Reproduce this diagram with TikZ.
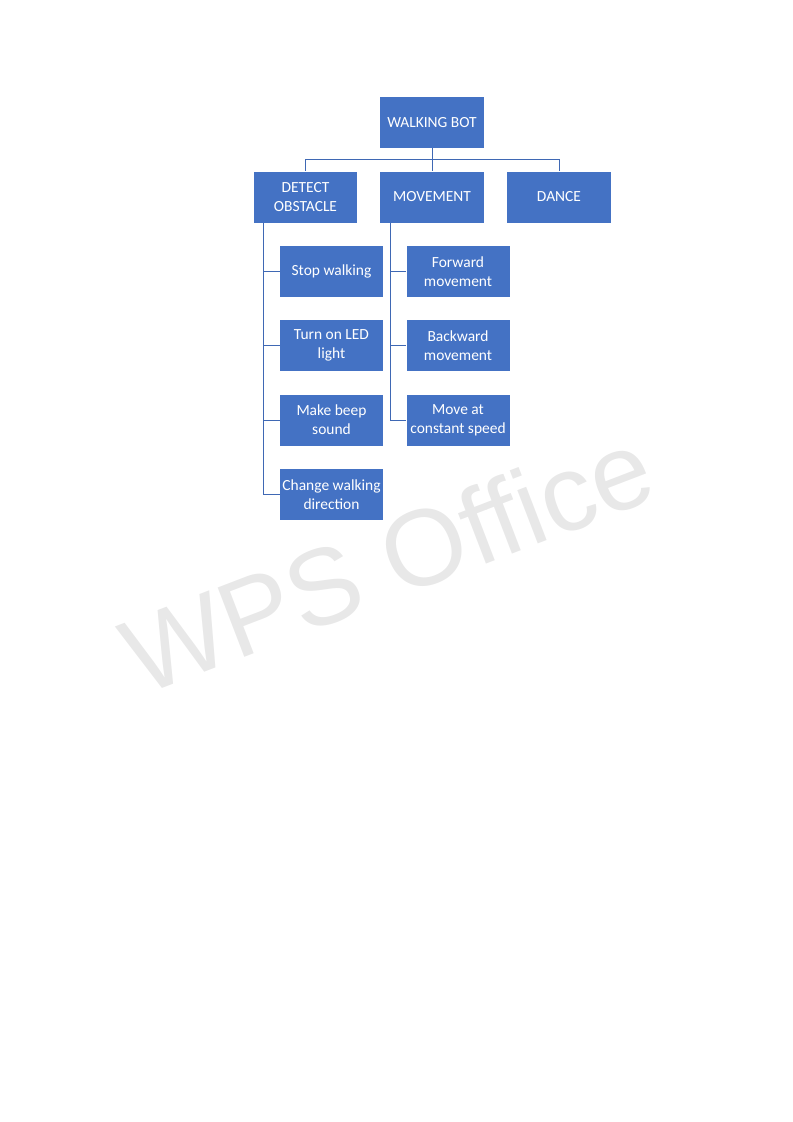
\documentclass[tikz,border=0pt]{standalone}
\usepackage{fontspec}
\setmainfont{Carlito}
\newfontfamily\markfont{Liberation Sans}
\usepackage{xcolor}
\definecolor{boxblue}{HTML}{4472C4}
\definecolor{lineblue}{HTML}{3F68B4}
\tikzset{
  topbox/.style={fill=boxblue, text=white, inner xsep=0pt, minimum width=78pt,
    align=center, minimum height=38.25pt, font=\fontsize{11.6}{14.25}\selectfont},
  subbox/.style={topbox, minimum width=77.25pt},
  link/.style={draw=lineblue, line width=0.75pt}
}

\begin{document}
\begin{tikzpicture}[x=0.75pt, y=-0.75pt]
  \useasboundingbox (0,0) rectangle (793,1122);
  % watermark
  \node[rotate=21, text=black!9, font=\markfont\fontsize{81}{81}\selectfont,
    inner sep=0pt] (mark) at (387,561) {WPS Office};

  % top level
  \node[topbox] (bot) at (432,122.5) {WALKING BOT};
  \node[topbox, minimum width=77.25pt] (detect) at (305.5,197) {DETECT\\OBSTACLE};
  \node[topbox] (move) at (432,197) {MOVEMENT};
  \node[topbox] (dance) at (559,197) {DANCE};

  % obstacle branch
  \node[subbox] (stop) at (331.5,271.3) {Stop walking};
  \node[subbox] (led) at (331.5,345.3) {Turn on LED\\light};
  \node[subbox] (beep) at (331.5,420) {Make beep\\sound};
  \node[subbox] (turn) at (331.5,494.3) {Change walking\\direction};

  % movement branch
  \node[subbox] (fwd) at (458,271.3) {Forward\\movement};
  \node[subbox] (back) at (458,345.3) {Backward\\movement};
  \node[subbox] (speed) at (458,420) {Move at\\constant speed};

  % connectors
  \draw[link] (bot.south) -- ++(0,11) -| (detect.north);
  \draw[link] (bot.south) -- ++(0,11) -| (dance.north);
  \draw[link] (bot.south) -- (move.north);

  \coordinate (dtrunk) at ([xshift=7pt]detect.south west);
  \draw[link] (dtrunk) |- (turn.west);
  \foreach \n in {stop,led,beep}
    \draw[link] (dtrunk |- \n.west) -- (\n.west);

  \coordinate (mtrunk) at ([xshift=7.7pt]move.south west);
  \draw[link] (mtrunk) |- (speed.west);
  \foreach \n in {fwd,back}
    \draw[link] (mtrunk |- \n.west) -- (\n.west);
\end{tikzpicture}
\end{document}
